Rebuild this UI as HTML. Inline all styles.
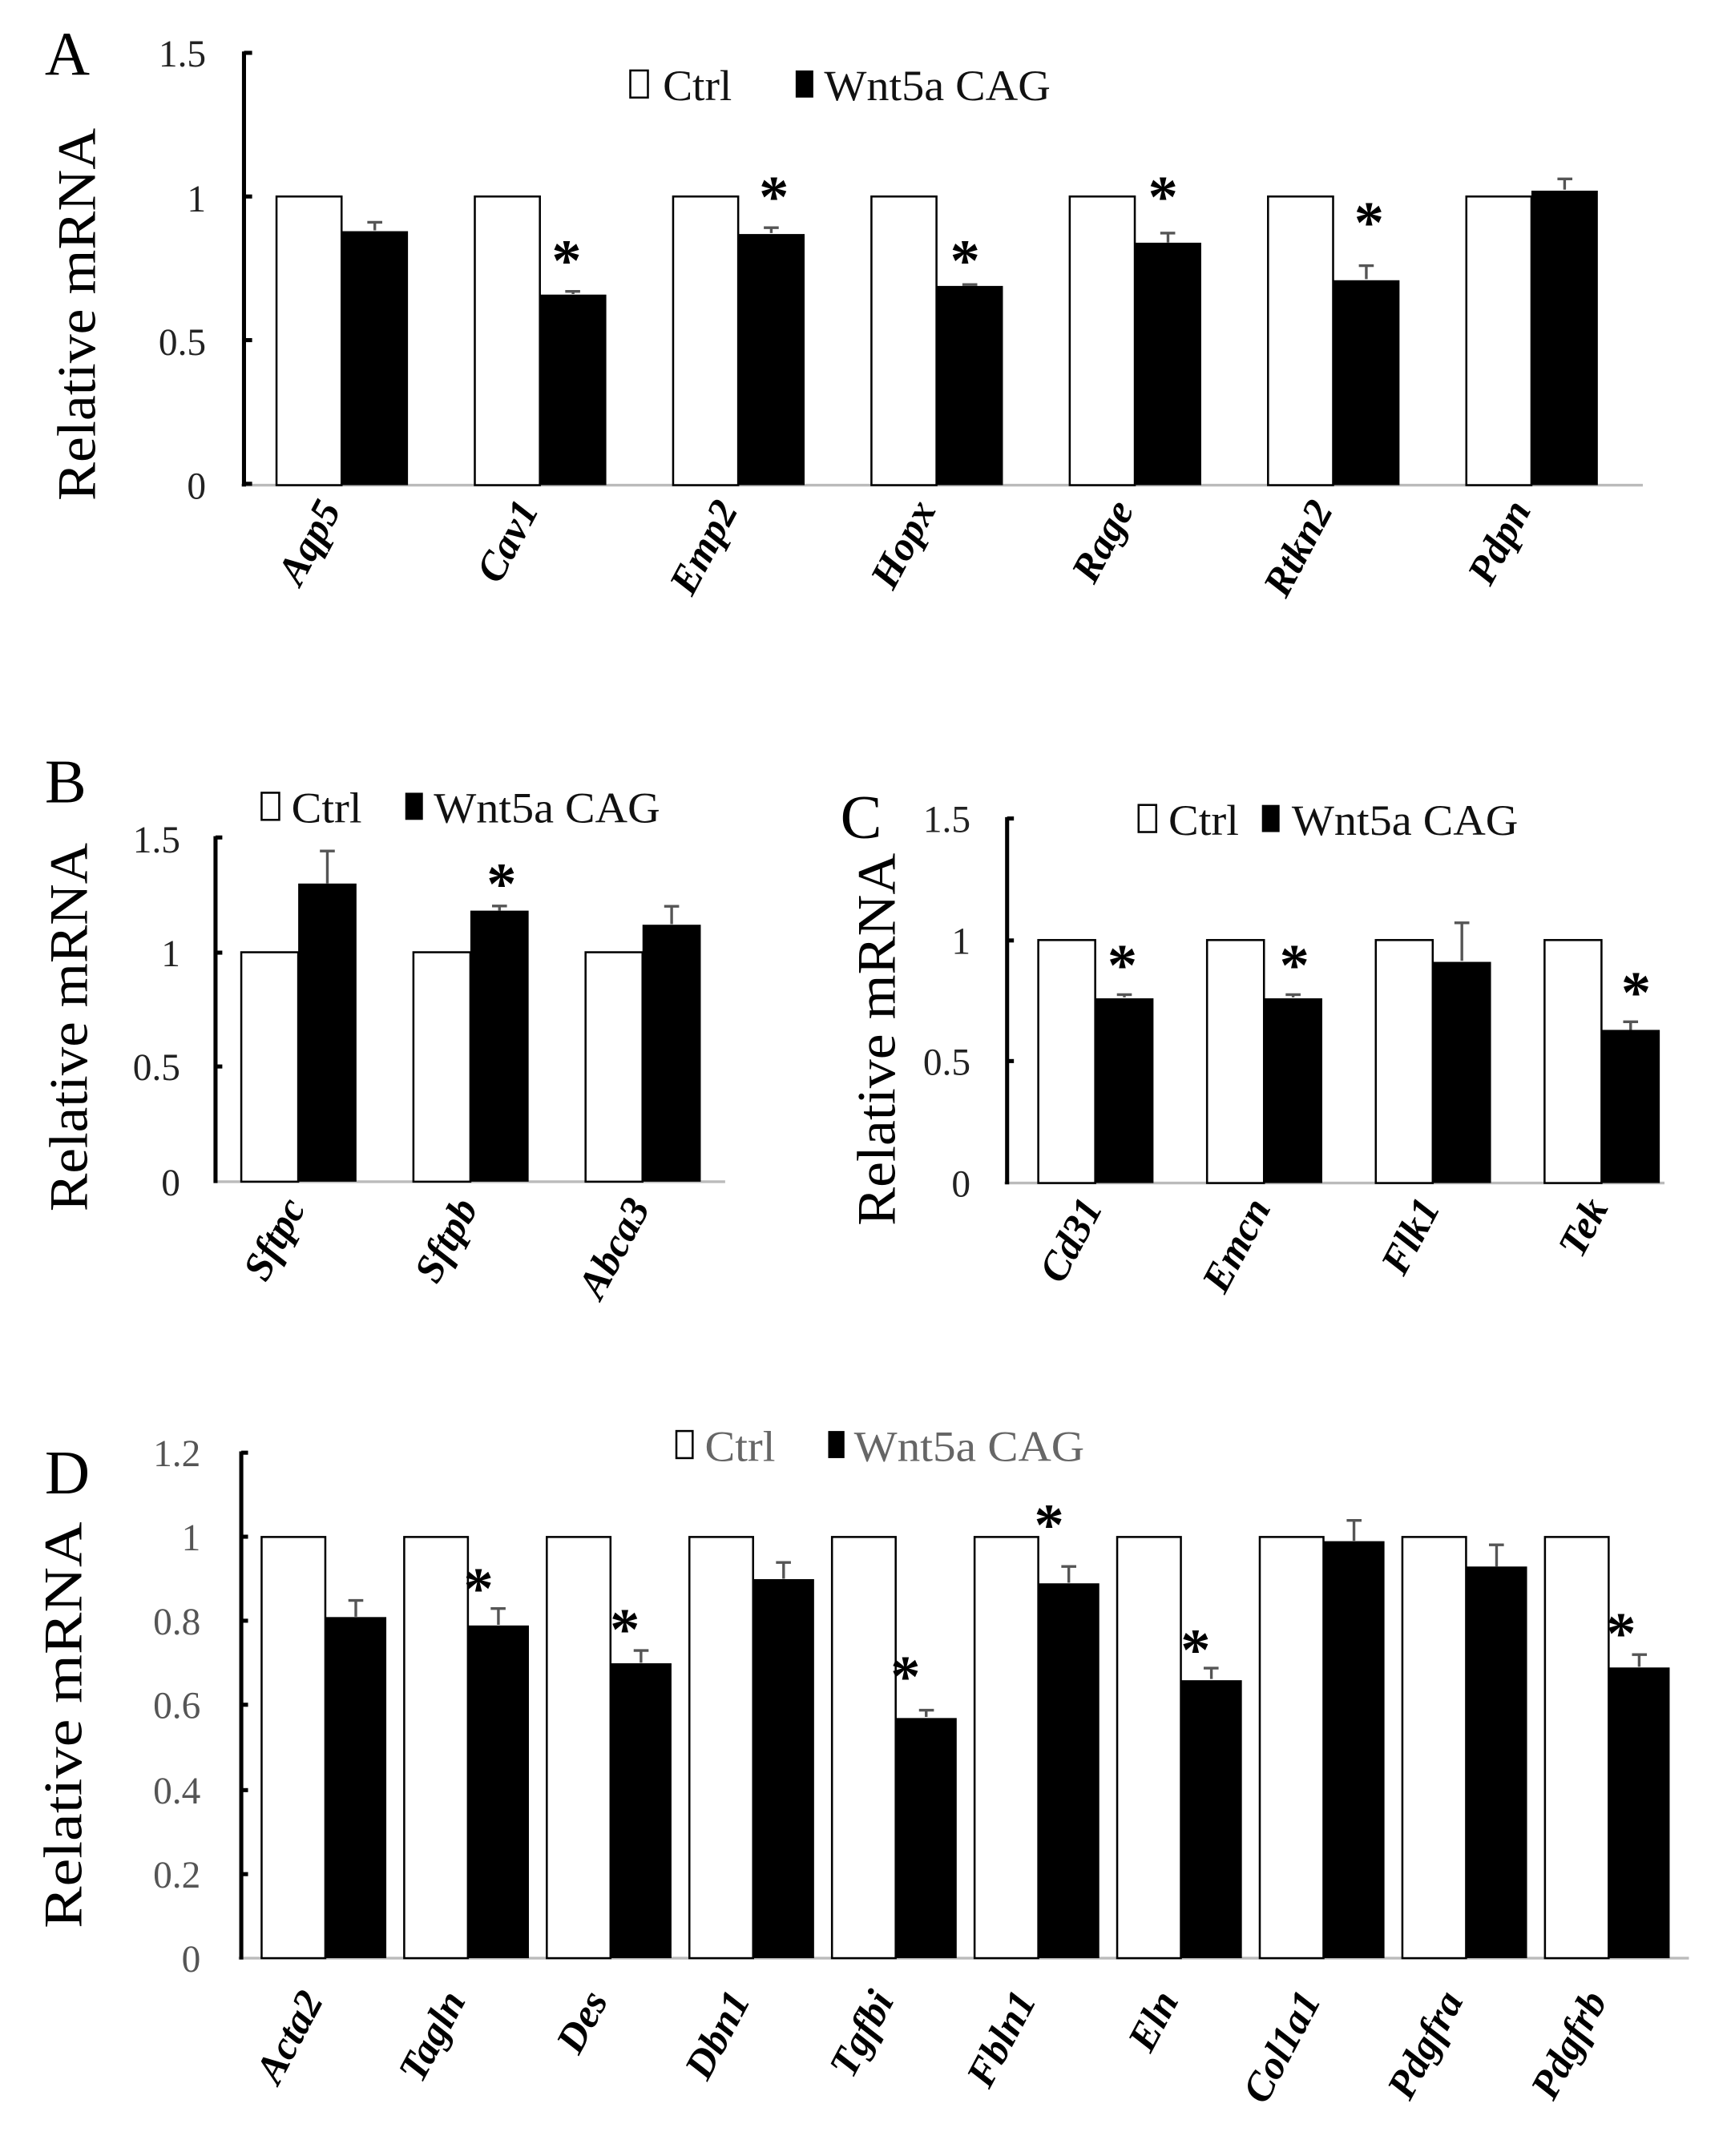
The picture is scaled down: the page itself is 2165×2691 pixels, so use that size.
<!DOCTYPE html>
<html><head><meta charset="utf-8"><style>
html,body{margin:0;padding:0;background:#fff;}
svg{display:block;}
text{font-family:"Liberation Serif",serif;}
.t{font-size:28px;fill:#222;}
.lab{font-size:30px;font-weight:bold;font-style:italic;}
.st{font-size:44px;font-weight:bold;}
.lg{font-size:32px;fill:#111;}
.yl{font-size:40px;}
.P{font-size:46px;}
.c{fill:#fff;stroke:#000;stroke-width:1.5;}
.b{fill:#000;}
.e{stroke:#555;stroke-width:2;fill:none;}
.ax{stroke:#000;stroke-width:3;}
.bl{stroke:#bbb;stroke-width:2;}
</style></head><body>
<svg width="2165" height="2691" viewBox="0 0 1280 1591" preserveAspectRatio="none" xmlns="http://www.w3.org/2000/svg">
<!-- Panel A -->
<text class="P" x="33" y="55">A</text>
<text class="yl" transform="translate(70,232) rotate(-90)" text-anchor="middle" textLength="275" lengthAdjust="spacingAndGlyphs">Relative mRNA</text>
<g class="t" text-anchor="end"><text x="152" y="49">1.5</text><text x="152" y="156">1</text><text x="152" y="262">0.5</text><text x="152" y="368">0</text></g>
<line class="bl" x1="178" y1="358" x2="1212" y2="358"/>
<line class="ax" x1="180" y1="38" x2="180" y2="359"/>
<g class="ax"><line x1="180" y1="39" x2="186" y2="39"/><line x1="180" y1="145" x2="186" y2="145"/><line x1="180" y1="251" x2="186" y2="251"/><line x1="180" y1="357" x2="186" y2="357"/></g>
<rect class="c" x="465" y="52" width="13" height="20"/><text class="lg" x="489" y="74" textLength="51" lengthAdjust="spacingAndGlyphs">Ctrl</text>
<rect class="b" x="587" y="52" width="13" height="20"/><text class="lg" x="608" y="74" textLength="167" lengthAdjust="spacingAndGlyphs">Wnt5a CAG</text>
<g>
<rect class="c" x="204" y="145" width="48" height="213"/><rect class="b" x="252" y="170.6" width="49" height="187.4"/><path class="e" d="M276.5 170V164M271 164H282"/>
<rect class="c" x="350.3" y="145" width="48" height="213"/><rect class="b" x="398.3" y="217.4" width="49" height="140.6"/><path class="e" d="M422.8 217V215M417 215H428"/>
<rect class="c" x="496.6" y="145" width="48" height="213"/><rect class="b" x="544.6" y="172.7" width="49" height="185.3"/><path class="e" d="M569 172V168M563.5 168H574.5"/>
<rect class="c" x="642.9" y="145" width="48" height="213"/><rect class="b" x="690.9" y="211" width="49" height="147"/><path class="e" d="M715.4 211V210M710 210H721"/>
<rect class="c" x="789.2" y="145" width="48" height="213"/><rect class="b" x="837.2" y="179.1" width="49" height="178.9"/><path class="e" d="M861.7 179V172M856 172H867"/>
<rect class="c" x="935.5" y="145" width="48" height="213"/><rect class="b" x="983.5" y="206.8" width="49" height="151.2"/><path class="e" d="M1008 206V196M1002.5 196H1013.5"/>
<rect class="c" x="1081.8" y="145" width="48" height="213"/><rect class="b" x="1129.8" y="140.7" width="49" height="217.3"/><path class="e" d="M1154.3 140V132M1149 132H1160"/>
</g>
<g class="st" text-anchor="middle"><text x="418" y="207">*</text><text x="571" y="160">*</text><text x="712" y="207">*</text><text x="858" y="160">*</text><text x="1010" y="179">*</text></g>
<g class="lab" text-anchor="end">
<text transform="translate(252,376) rotate(-62)">Aqp5</text>
<text transform="translate(398,376) rotate(-62)">Cav1</text>
<text transform="translate(545,376) rotate(-62)">Emp2</text>
<text transform="translate(691,376) rotate(-62)">Hopx</text>
<text transform="translate(837,376) rotate(-62)">Rage</text>
<text transform="translate(984,376) rotate(-62)">Rtkn2</text>
<text transform="translate(1130,376) rotate(-62)">Pdpn</text>
</g>

<!-- Panel B -->
<text class="P" x="33" y="592">B</text>
<text class="yl" transform="translate(64,758) rotate(-90)" text-anchor="middle" textLength="272" lengthAdjust="spacingAndGlyphs">Relative mRNA</text>
<g class="t" text-anchor="end"><text x="133" y="629">1.5</text><text x="133" y="713">1</text><text x="133" y="797">0.5</text><text x="133" y="882">0</text></g>
<line class="bl" x1="158" y1="872" x2="535" y2="872"/>
<line class="ax" x1="159" y1="617" x2="159" y2="873"/>
<g class="ax"><line x1="159" y1="618" x2="164" y2="618"/><line x1="159" y1="703" x2="164" y2="703"/><line x1="159" y1="787" x2="164" y2="787"/></g>
<rect class="c" x="193" y="585" width="13" height="20"/><text class="lg" x="215" y="607" textLength="52" lengthAdjust="spacingAndGlyphs">Ctrl</text>
<rect class="b" x="299" y="585" width="13" height="20"/><text class="lg" x="320" y="607" textLength="167" lengthAdjust="spacingAndGlyphs">Wnt5a CAG</text>
<rect class="c" x="178" y="702.7" width="42" height="169.3"/><rect class="b" x="220" y="652" width="43" height="220"/><path class="e" d="M241.5 652V628M236 628H247"/>
<rect class="c" x="305" y="702.7" width="42" height="169.3"/><rect class="b" x="347" y="672" width="43" height="200"/><path class="e" d="M368.5 672V668.6M363 668.6H374"/>
<rect class="c" x="432" y="702.7" width="42" height="169.3"/><rect class="b" x="474" y="682.4" width="43" height="189.6"/><path class="e" d="M495.5 682V668.8M490 668.8H501"/>
<text class="st" x="370" y="667" text-anchor="middle">*</text>
<g class="lab" text-anchor="end">
<text transform="translate(226,891) rotate(-62)">Sftpc</text>
<text transform="translate(353,891) rotate(-62)">Sftpb</text>
<text transform="translate(480,891) rotate(-62)">Abca3</text>
</g>

<!-- Panel C -->
<text class="P" x="620" y="618">C</text>
<text class="yl" transform="translate(660,767) rotate(-90)" text-anchor="middle" textLength="275" lengthAdjust="spacingAndGlyphs">Relative mRNA</text>
<g class="t" text-anchor="end"><text x="716" y="614">1.5</text><text x="716" y="704">1</text><text x="716" y="793">0.5</text><text x="716" y="883">0</text></g>
<line class="bl" x1="741" y1="873" x2="1228" y2="873"/>
<line class="ax" x1="743" y1="603" x2="743" y2="874"/>
<g class="ax"><line x1="743" y1="604" x2="748" y2="604"/><line x1="743" y1="694" x2="748" y2="694"/><line x1="743" y1="783" x2="748" y2="783"/></g>
<rect class="c" x="840" y="594" width="13" height="20"/><text class="lg" x="862" y="616" textLength="52" lengthAdjust="spacingAndGlyphs">Ctrl</text>
<rect class="b" x="931" y="594" width="13" height="20"/><text class="lg" x="953" y="616" textLength="167" lengthAdjust="spacingAndGlyphs">Wnt5a CAG</text>
<rect class="c" x="766" y="693.7" width="42" height="179.3"/><rect class="b" x="808" y="736.7" width="43" height="136.3"/><path class="e" d="M829.5 736V734M824 734H835"/>
<rect class="c" x="890.5" y="693.7" width="42" height="179.3"/><rect class="b" x="932.5" y="736.7" width="43" height="136.3"/><path class="e" d="M954 736V734M948.5 734H959.5"/>
<rect class="c" x="1015" y="693.7" width="42" height="179.3"/><rect class="b" x="1057" y="709.8" width="43" height="163.2"/><path class="e" d="M1078.5 709V681M1073 681H1084"/>
<rect class="c" x="1139.5" y="693.7" width="42" height="179.3"/><rect class="b" x="1181.5" y="760" width="43" height="113"/><path class="e" d="M1203 760V754M1197.5 754H1208.5"/>
<g class="st" text-anchor="middle"><text x="828" y="727">*</text><text x="955" y="727">*</text><text x="1207" y="747">*</text></g>
<g class="lab" text-anchor="end">
<text transform="translate(814,891) rotate(-62)">Cd31</text>
<text transform="translate(938,891) rotate(-62)">Emcn</text>
<text transform="translate(1063,891) rotate(-62)">Flk1</text>
<text transform="translate(1187,891) rotate(-62)">Tek</text>
</g>

<!-- Panel D -->
<text class="P" x="33" y="1102">D</text>
<text class="yl" transform="translate(60,1273) rotate(-90)" text-anchor="middle" textLength="300" lengthAdjust="spacingAndGlyphs">Relative mRNA</text>
<g class="t" text-anchor="end" style="fill:#555"><text x="148" y="1082">1.2</text><text x="148" y="1144">1</text><text x="148" y="1206">0.8</text><text x="148" y="1268">0.6</text><text x="148" y="1331">0.4</text><text x="148" y="1393">0.2</text><text x="148" y="1455">0</text></g>
<line class="bl" x1="176" y1="1445" x2="1246" y2="1445"/>
<line class="ax" x1="178" y1="1071" x2="178" y2="1446"/>
<g class="ax"><line x1="178" y1="1072" x2="183" y2="1072"/><line x1="178" y1="1134" x2="183" y2="1134"/><line x1="178" y1="1196" x2="183" y2="1196"/><line x1="178" y1="1258" x2="183" y2="1258"/><line x1="178" y1="1321" x2="183" y2="1321"/><line x1="178" y1="1383" x2="183" y2="1383"/></g>
<rect class="c" x="499" y="1056" width="12" height="20"/><text class="lg" x="520" y="1078" style="fill:#666" textLength="52" lengthAdjust="spacingAndGlyphs">Ctrl</text>
<rect class="b" x="611" y="1056" width="12" height="20"/><text class="lg" x="630" y="1078" style="fill:#666" textLength="170" lengthAdjust="spacingAndGlyphs">Wnt5a CAG</text>
<rect class="c" x="193" y="1134.2" width="47" height="310.8"/><rect class="b" x="240" y="1193.3" width="45" height="251.7"/><path class="e" d="M262.5 1193V1181M257 1181H268"/>
<rect class="c" x="298.2" y="1134.2" width="47" height="310.8"/><rect class="b" x="345.2" y="1199.5" width="45" height="245.5"/><path class="e" d="M367.7 1199V1187M362 1187H373"/>
<rect class="c" x="403.4" y="1134.2" width="47" height="310.8"/><rect class="b" x="450.4" y="1227.4" width="45" height="217.6"/><path class="e" d="M472.9 1227V1218M467.5 1218H478.5"/>
<rect class="c" x="508.6" y="1134.2" width="47" height="310.8"/><rect class="b" x="555.6" y="1165.3" width="45" height="279.7"/><path class="e" d="M578.1 1165V1153M572.5 1153H583.5"/>
<rect class="c" x="613.8" y="1134.2" width="47" height="310.8"/><rect class="b" x="660.8" y="1267.8" width="45" height="177.2"/><path class="e" d="M683.3 1267V1262M678 1262H689"/>
<rect class="c" x="719" y="1134.2" width="47" height="310.8"/><rect class="b" x="766" y="1168.4" width="45" height="276.6"/><path class="e" d="M788.5 1168V1156M783 1156H794"/>
<rect class="c" x="824.2" y="1134.2" width="47" height="310.8"/><rect class="b" x="871.2" y="1239.9" width="45" height="205.1"/><path class="e" d="M893.7 1239V1231M888 1231H899"/>
<rect class="c" x="929.4" y="1134.2" width="47" height="310.8"/><rect class="b" x="976.4" y="1137.3" width="45" height="307.7"/><path class="e" d="M998.9 1137V1122M993.5 1122H1004.5"/>
<rect class="c" x="1034.6" y="1134.2" width="47" height="310.8"/><rect class="b" x="1081.6" y="1156" width="45" height="289"/><path class="e" d="M1104.1 1156V1140M1098.5 1140H1109.5"/>
<rect class="c" x="1139.8" y="1134.2" width="47" height="310.8"/><rect class="b" x="1186.8" y="1230.5" width="45" height="214.5"/><path class="e" d="M1209.3 1230V1221M1204 1221H1215"/>
<g class="st" text-anchor="middle"><text x="353" y="1187">*</text><text x="461" y="1217">*</text><text x="668" y="1252">*</text><text x="774" y="1140">*</text><text x="882" y="1232">*</text><text x="1196" y="1220">*</text></g>
<g class="lab" text-anchor="end">
<text transform="translate(239,1476) rotate(-62)">Acta2</text>
<text transform="translate(344,1476) rotate(-62)">Tagln</text>
<text transform="translate(449,1476) rotate(-62)">Des</text>
<text transform="translate(554,1476) rotate(-62)">Dbn1</text>
<text transform="translate(660,1476) rotate(-62)">Tgfbi</text>
<text transform="translate(765,1476) rotate(-62)">Fbln1</text>
<text transform="translate(870,1476) rotate(-62)">Eln</text>
<text transform="translate(975,1476) rotate(-62)">Col1a1</text>
<text transform="translate(1080,1476) rotate(-62)">Pdgfra</text>
<text transform="translate(1186,1476) rotate(-62)">Pdgfrb</text>
</g>
</svg>
</body></html>
